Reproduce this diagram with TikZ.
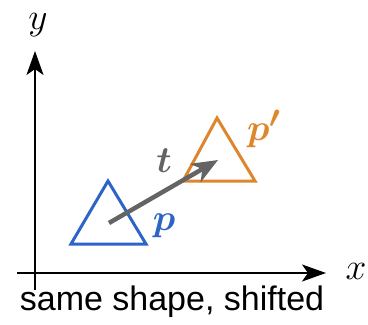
\documentclass[tikz,border=0pt]{standalone}
\usepackage{fontspec}
\setmainfont{Liberation Sans}
\usepackage{bm}
\usetikzlibrary{arrows.meta}
\definecolor{triblue}{RGB}{45,100,200}
\definecolor{triorange}{RGB}{222,134,44}
\definecolor{vecgray}{RGB}{100,100,100}
\newcommand{\biglab}[1]{\scalebox{1.5}{\Huge$#1$}}
\tikzset{
  axis/.style={line width=2pt,-{Stealth[length=24pt,width=17pt,inset=6pt]}},
  tri/.style={line width=3pt,line join=miter},
  vec/.style={line width=4.5pt,color=vecgray,-{Stealth[length=26pt,width=21pt,inset=8pt]}},
  mlabel/.style={inner sep=0pt},
}
\begin{document}
\begin{tikzpicture}[x=1pt,y=-1pt]
\useasboundingbox (0,0) rectangle (368,325);
% axes
\coordinate (o) at (35,273);
\coordinate (ybot) at (35,290);
\coordinate (ytop) at (35,51);
\coordinate (xleft) at (17,273);
\coordinate (xright) at (326,273);
\draw[axis] (ybot) -- (ytop);
\draw[axis] (xleft) -- (xright);
\node[mlabel] (ylab) at (38,25) {\biglab{y}};
\node[mlabel] (xlab) at (356,271) {\biglab{x}};
% blue triangle
\coordinate (b1) at (108,181);
\coordinate (b2) at (71,244);
\coordinate (b3) at (146,244);
\draw[tri,triblue] (b1) -- (b2) -- (b3) -- cycle;
\coordinate (bc) at (109,223);
% orange triangle
\coordinate (o1) at (217,118);
\coordinate (o2) at (183,181);
\coordinate (o3) at (255,181);
\draw[tri,triorange] (o1) -- (o2) -- (o3) -- cycle;
\coordinate (oc) at (218,160);
% vector
\draw[vec] (bc) -- (oc);
\node[mlabel,text=vecgray] (tlab) at (164,161) {\biglab{\bm{t}}};
\node[mlabel,text=triblue] (plab) at (164,226) {\biglab{\bm{p}}};
\node[mlabel,text=triorange] (pplab) at (264,129) {\biglab{\bm{p'}}};
\node[inner sep=0pt,font=\fontsize{34}{34}\selectfont] (cap) at (172,302) {same shape, shifted};
\end{tikzpicture}
\end{document}
